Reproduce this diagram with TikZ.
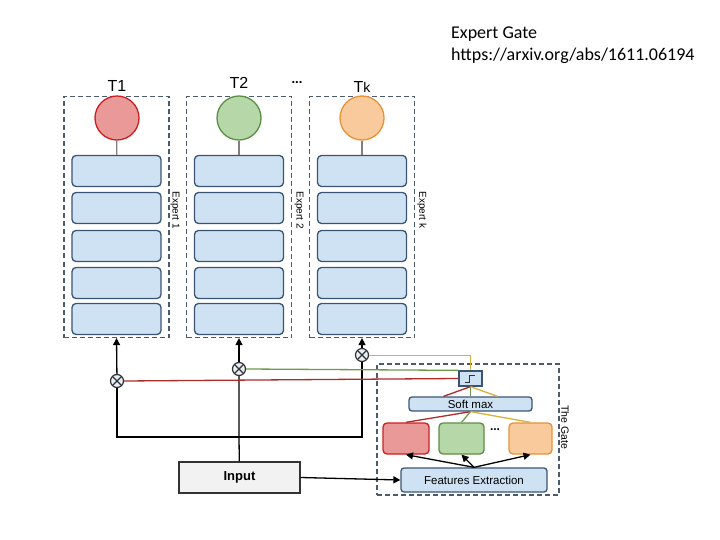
\documentclass[tikz,border=0pt]{standalone}
\usepackage{fontspec}
\setmainfont{Liberation Sans}
\newfontfamily\notefont{Carlito}
\usetikzlibrary{arrows.meta}

\definecolor{layerblue}{HTML}{CFE2F3}
\definecolor{layeredge}{HTML}{3A5573}
\definecolor{dashgray}{HTML}{4B5B6B}
\definecolor{redfill}{HTML}{EA9999}
\definecolor{rededge}{HTML}{CC1F1F}
\definecolor{greenfill}{HTML}{B6D7A8}
\definecolor{greenedge}{HTML}{5B8F45}
\definecolor{orangefill}{HTML}{F9CB9C}
\definecolor{orangeedge}{HTML}{E69138}
\definecolor{redline}{HTML}{B02A2A}
\definecolor{greenline}{HTML}{6A9A4A}
\definecolor{goldline}{HTML}{D6B13F}

\begin{document}
\begin{tikzpicture}[x=1pt,y=-1pt,
  wire/.style={line width=1.3pt},
  layer/.style={draw=layeredge,fill=layerblue,rounded corners=4pt,inner sep=0pt,line width=1.3pt,minimum width=89pt,minimum height=31pt},
  expert/.style={draw=dashgray,dash pattern=on 5pt off 3pt,line width=1.2pt,inner sep=0pt,minimum width=105pt,minimum height=241pt},
  task/.style={circle,line width=1.3pt,inner sep=0pt,minimum size=44pt},
  gatebox/.style={rounded corners=4pt,line width=1.3pt,inner sep=0pt,minimum height=31pt},
  mult/.style={circle,draw=black!80,fill=layerblue!50,line width=1.2pt,inner sep=0pt,minimum size=13pt,
    path picture={\draw[black!80,line width=1.2pt] (path picture bounding box.north west) -- (path picture bounding box.south east)
      (path picture bounding box.south west) -- (path picture bounding box.north east);}},
  up/.style={wire,-{Triangle[width=7pt,length=7pt]}},
  side/.style={rotate=-90,font=\fontsize{10}{11}\selectfont}
]
\useasboundingbox (0,0) rectangle (720,540);

% note
\node[anchor=west,inner sep=0pt,font=\notefont\fontsize{18}{20}\selectfont] (title) at (451,34) {Expert Gate};
\node[anchor=west,inner sep=0pt,font=\notefont\fontsize{18}{20}\selectfont] (url) at (451,56) {https://arxiv.org/abs/1611.06194};

% experts
\foreach \i/\x in {1/116.5,2/239,3/362}{
  \node[expert] (e\i) at (\x,217) {};
  \foreach \j/\y in {1/171,2/208,3/246,4/283,5/319}
    \node[layer] (r\i\j) at (\x,\y) {};
}
\node[side] (l1) at (175,210) {Expert 1};
\node[side] (l2) at (299,210) {Expert 2};
\node[side] (l3) at (422,210) {Expert k};

\node[task,draw=rededge,fill=redfill] (t1) at (117,118) {};
\node[task,draw=greenedge,fill=greenfill] (t2) at (239,118) {};
\node[task,draw=orangeedge,fill=orangefill] (t3) at (362,118) {};
\foreach \i in {1,2,3}
  \draw[gray,wire] (t\i) -- (r\i1);

\node[font=\fontsize{16}{18}\selectfont] (n1) at (117,86) {T1};
\node[font=\fontsize{16}{18}\selectfont] (n2) at (239,83) {T2};
\node[font=\fontsize{16}{18}\selectfont] (n3) at (362,87) {T{\fontsize{14}{16}\selectfont k}};
\node[font=\bfseries\fontsize{13}{14}\selectfont] (dots) at (297,83) {...};

% multipliers and input
\node[mult] (m1) at (117,381) {};
\node[mult] (m2) at (239,369) {};
\node[mult] (m3) at (362,355) {};
\foreach \i in {1,2,3}
  \draw[up] (m\i) -- (e\i.south);

\node[draw=black!80,fill=black!5,wire,minimum width=121pt,minimum height=31pt,font=\bfseries\fontsize{13}{15}\selectfont] (in) at (239.5,477.5) {Input};
\coordinate (j1) at (117,437);
\coordinate (j2) at (239,437);
\coordinate (j3) at (362,437);
\draw[wire] (m1) -- (j1) -- (j3) -- (m3);
\draw[wire] (in) -- (j2) -- (m2);

% the gate
\node[draw=dashgray,dash pattern=on 5pt off 3pt,line width=1.2pt,minimum width=182pt,minimum height=131pt] (gate) at (468,429.5) {};
\node[side,font=\fontsize{10.5}{12}\selectfont] (lg) at (565,427) {The Gate};

\node[draw=layeredge,fill=layerblue,line width=1.3pt,inner sep=0pt,minimum width=23pt,minimum height=15pt] (sw) at (470.5,378.5) {};
\draw[black!80,wire] ([shift={(-6,4)}]sw.center) -- ++(5,0) -- ++(0,-7) -- ++(5,0);
\node[draw=layeredge,fill=layerblue,rounded corners=3pt,line width=1.3pt,inner sep=0pt,minimum width=123pt,minimum height=14pt,font=\fontsize{11.5}{12}\selectfont] (sm) at (470.5,404) {Soft max};

\node[gatebox,draw=rededge,fill=redfill,minimum width=46pt] (g1) at (406,438.5) {};
\node[gatebox,draw=greenedge,fill=greenfill,minimum width=45pt] (g2) at (461.5,438.5) {};
\node[gatebox,draw=orangeedge,fill=orangefill,minimum width=43pt] (g3) at (530.5,438.5) {};
\node[font=\bfseries\fontsize{12}{13}\selectfont] (gdots) at (495,430) {...};

\node[draw=layeredge,fill=layerblue,rounded corners=3pt,line width=1.3pt,inner sep=0pt,minimum width=146pt,minimum height=24pt,font=\fontsize{11.5}{13}\selectfont] (fe) at (474,480) {Features Extraction};

\draw[up] (in.east) -- (fe.west);
\foreach \i in {1,2,3}
  \draw[up] (fe.north) -- (g\i.south);

\draw[redline,wire] (sm.south) -- (g1.north);
\draw[greenline,wire] (sm.south) -- (g2.north);
\draw[goldline,wire] (sm.south) -- (g3.north);
\draw[redline,wire] (sw.south) -- ([xshift=-27pt]sm.north);
\draw[greenline,wire] (sw.south) -- (sm.north);
\draw[goldline,wire] (sw.south) -- ([xshift=27pt]sm.north);

\draw[redline,wire] (sw.west) -- (m1.east);
\draw[greenline,wire] (sw.north west) -- (m2.east);
\draw[goldline,line width=1pt] (m3.east) -| (sw.north);
\end{tikzpicture}
\end{document}
